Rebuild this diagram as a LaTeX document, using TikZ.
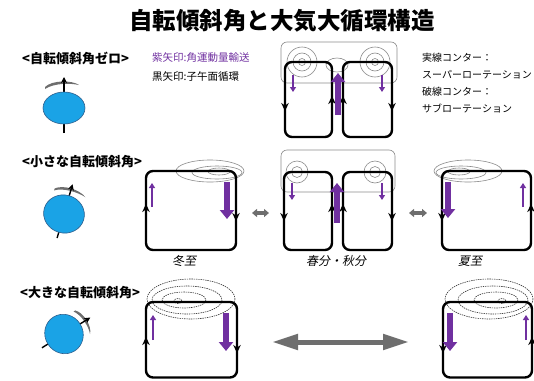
\documentclass[tikz,border=0pt]{standalone}
\usepackage{fontspec}
\setmainfont{Noto Sans CJK JP}
\newfontfamily\slantjp{Noto Sans CJK JP}[FakeSlant=0.2]
\usetikzlibrary{arrows.meta}
\definecolor{amPurple}{HTML}{7030A0}
\definecolor{globeBlue}{HTML}{1AA3E6}
\definecolor{globeEdge}{HTML}{2E5E8C}
\definecolor{arrGrey}{HTML}{6E6E6E}
\definecolor{contGrey}{HTML}{8A8A8A}
\begin{document}
\begin{tikzpicture}[x=1pt,y=-1pt,
  cell/.style={draw=black, line width=2.4pt, rounded corners=7pt},
  cont/.style={draw=contGrey, line width=0.6pt},
  dcont/.style={draw=black!80, line width=0.6pt, dash pattern=on 1.4pt off 0.9pt},
  frame/.style={draw=contGrey, line width=0.6pt, rounded corners=6pt},
  pbig/.style={draw=amPurple, line width=6pt, -{Triangle[width=14pt,length=9pt]}},
  psmall/.style={draw=amPurple, line width=2.2pt, -{Triangle[width=6pt,length=5pt]}},
  flowtip/.style={line width=1.4pt, -{Stealth[length=8pt,width=7.5pt]}},
  swap/.style={draw=arrGrey, line width=3.5pt, {Triangle[width=8pt,length=5pt]}-{Triangle[width=8pt,length=5pt]}},
  bigswap/.style={draw=arrGrey, line width=5pt, {Triangle[width=15pt,length=26pt]}-{Triangle[width=15pt,length=26pt]}},
  lbl/.style={font=\fontsize{13}{15}\selectfont\bfseries, anchor=west, inner sep=0},
  note/.style={font=\fontsize{10.5}{12}\selectfont, anchor=west, inner sep=0},
  season/.style={font=\slantjp\fontsize{12}{14}\selectfont, inner sep=0},
  globe/.style={fill=globeBlue, draw=globeEdge, line width=0.6pt},
  spin/.style={fill=arrGrey},
  axis/.style={line width=1.4pt, -{Stealth[length=6pt,width=6pt]}},
]
\useasboundingbox (0,0) rectangle (534,380);

% ---- title and legend ----
\node (title) at (282,21) {\fontsize{23.5}{26}\selectfont\bfseries 自転傾斜角と大気大循環構造};
\node[lbl] (l0) at (22,58) {<自転傾斜角ゼロ>};
\node[lbl] (l1) at (22,162) {<小さな自転傾斜角>};
\node[lbl] (l2) at (20,293) {<大きな自転傾斜角>};
\node[note, text=amPurple] (np) at (152,58) {紫矢印:角運動量輸送};
\node[note] (nb) at (152,76) {黒矢印:子午面循環};
\node[note, font=\fontsize{10}{12}\selectfont] (ns1) at (422,58) {実線コンター：};
\node[note, font=\fontsize{10}{12}\selectfont] (ns2) at (422,75) {スーパーローテーション};
\node[note, font=\fontsize{10}{12}\selectfont] (nd1) at (422,92) {破線コンター：};
\node[note, font=\fontsize{10}{12}\selectfont] (nd2) at (422,108) {サブローテーション};

% ---- globes: spin mark, axis, sphere ----
\begin{scope}[shift={(64,108)}]
  \fill[spin] (-19,-21) .. controls (-12,-28) and (8,-28) .. (15,-23)
             .. controls (6,-25) and (-10,-25) .. (-19,-19) -- cycle;
  \draw[axis] (0,25) -- (0,-31);
  \path[globe] (0,0) ellipse [x radius=21, y radius=16];
\end{scope}
\begin{scope}[shift={(64,214)}, rotate=-16]
  \fill[spin] (-16,-22) .. controls (-9,-28) and (8,-28) .. (16,-22)
             .. controls (7,-25) and (-8,-25) .. (-16,-20) -- cycle;
  \draw[axis] (0,25) -- (0,-31);
  \path[globe] (0,0) ellipse [x radius=20.5, y radius=19];
\end{scope}
\begin{scope}[shift={(64,334)}, rotate=-58]
  \fill[spin] (-14,-22) .. controls (-8,-28) and (8,-28) .. (14,-22)
             .. controls (7,-25) and (-7,-25) .. (-14,-20) -- cycle;
  \draw[axis] (0,26) -- (0,-31);
  \path[globe] (0,0) ellipse [x radius=20, y radius=19];
\end{scope}

% ---- zero tilt: two symmetric cells ----
\path[frame] (281,42) rectangle (397,83);
\foreach \r in {15,9,3.5} {
  \draw[cont] (302,62) circle (\r);
  \draw[cont] (375,62) circle (\r);
}
\draw[cont] (337,65) ellipse [x radius=11, y radius=7];
\draw[cell] (285,62) rectangle (332,137);
\draw[cell] (343,62) rectangle (392,137);
\draw[flowtip] (285,104) -- (285,111);
\draw[flowtip] (332,103) -- (332,96);
\draw[flowtip] (343,103) -- (343,96);
\draw[flowtip] (392,104) -- (392,111);
\draw[psmall] (293,75) -- (293,92);
\draw[psmall] (382,75) -- (382,92);
\draw[pbig] (338,115) -- (338,73);

% ---- small tilt: winter solstice ----
\draw[cont] (210,171) ellipse [x radius=34, y radius=11];
\draw[cont] (217,172.5) ellipse [x radius=25, y radius=6.5];
\draw[cont] (219,171.5) ellipse [x radius=11, y radius=3.5];
\draw[cell] (146,171) rectangle (236,250);
\draw[flowtip] (146,211) -- (146,204);
\draw[flowtip] (236,214) -- (236,221);
\draw[psmall] (152,207) -- (152,183);
\draw[pbig] (227,182) -- (227,219);

% ---- small tilt: equinoxes ----
\path[frame] (281,150) rectangle (395,192);
\foreach \r in {11,5.5} {
  \draw[cont] (297,172) circle (\r);
  \draw[cont] (375,172) circle (\r);
}
\draw[cell] (284,172) rectangle (332,250);
\draw[cell] (343,172) rectangle (392,250);
\draw[flowtip] (284,214) -- (284,221);
\draw[flowtip] (332,211) -- (332,204);
\draw[flowtip] (343,211) -- (343,204);
\draw[flowtip] (392,214) -- (392,221);
\draw[psmall] (292,183) -- (292,200);
\draw[psmall] (382,183) -- (382,200);
\draw[pbig] (337,223) -- (337,183);

% ---- small tilt: summer solstice ----
\draw[cont] (468,171) ellipse [x radius=34, y radius=11];
\draw[cont] (461,172.5) ellipse [x radius=25, y radius=6.5];
\draw[cont] (459,171.5) ellipse [x radius=11, y radius=3.5];
\draw[cell] (442,171) rectangle (531,250);
\draw[flowtip] (442,214) -- (442,221);
\draw[flowtip] (531,211) -- (531,204);
\draw[psmall] (523,207) -- (523,183);
\draw[pbig] (448,182) -- (448,218);

\draw[swap] (252,213) -- (269,213);
\draw[swap] (409,213) -- (427,213);

\node[season] (winter) at (184,261) {冬至};
\node[season] (equinox) at (336,261) {春分・秋分};
\node[season] (summer) at (470,261) {夏至};

% ---- large tilt: winter solstice ----
\draw[dcont] (191,299) ellipse [x radius=44, y radius=20];
\draw[dcont] (187,300) ellipse [x radius=35, y radius=14];
\draw[dcont] (184,300) ellipse [x radius=22, y radius=8];
\draw[dcont] (178,301) ellipse [x radius=4, y radius=2.5];
\draw[cell] (146,302) rectangle (237,377.5);
\draw[flowtip] (146,344) -- (146,337);
\draw[flowtip] (237,346) -- (237,353);
\draw[psmall] (153,340) -- (153,315);
\draw[pbig] (226,313) -- (226,351);

% ---- large tilt: summer solstice ----
\draw[dcont] (489,299) ellipse [x radius=44, y radius=20];
\draw[dcont] (493,300) ellipse [x radius=35, y radius=14];
\draw[dcont] (496,300) ellipse [x radius=22, y radius=8];
\draw[dcont] (502,301) ellipse [x radius=4, y radius=2.5];
\draw[cell] (443,302) rectangle (532,377.5);
\draw[flowtip] (443,346) -- (443,353);
\draw[flowtip] (532,344) -- (532,337);
\draw[psmall] (526,340) -- (526,315);
\draw[pbig] (450,313) -- (450,351);

\draw[bigswap] (272,342) -- (409,342);
\end{tikzpicture}
\end{document}
